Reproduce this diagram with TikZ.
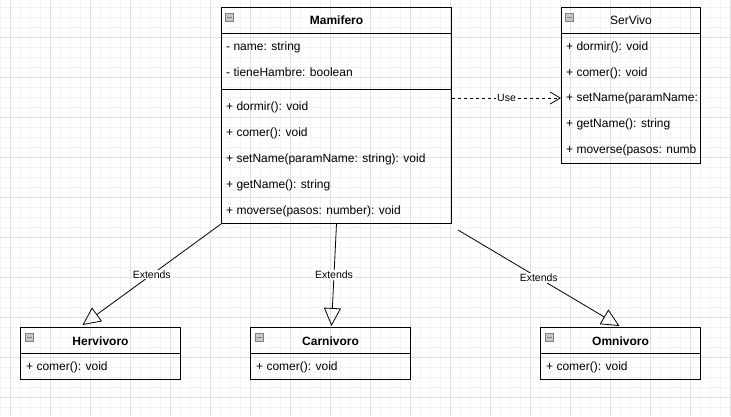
\documentclass[tikz,border=0pt]{standalone}
\usepackage{fontspec}
\setmainfont{Liberation Sans}
\usepackage{xcolor}
\usepackage{tikz}
\usetikzlibrary{arrows.meta, positioning, calc}
\definecolor{gridmajor}{HTML}{E0E0E0}
\definecolor{gridminor}{HTML}{F3F3F3}
\definecolor{togglegray}{HTML}{C8C8C8}

\begin{document}
\begin{tikzpicture}[
        x=1pt, y=-1pt,
        classbox/.style={draw=black, line width=1pt, anchor=north west, inner sep=0pt},
        classname/.style={font=\fontsize{12}{14}\selectfont\bfseries},
        member/.style={anchor=west, inner xsep=0pt, inner ysep=0pt, text height=9pt, text depth=2.5pt, font=\fontsize{12}{14}\selectfont},
        toggle/.style={draw=black!50, fill=togglegray, minimum size=8pt, inner sep=0pt, path picture={\draw[line width=1pt] ([xshift=1.5pt]path picture bounding box.west) -- ([xshift=-1.5pt]path picture bounding box.east);}},
        extends/.style={line width=0.8pt, -{Triangle[open, length=18pt, width=17pt]}},
        uses/.style={dashed, line width=0.8pt, -{Straight Barb[length=10pt, width=12pt]}},
        edgelabel/.style={fill=white, inner sep=1pt, font=\fontsize{10.5}{12}\selectfont}
    ]
        \useasboundingbox (0,0) rectangle (731,416);
        % grid background
        \fill[white] (0,0) rectangle (731,416);
        \foreach \gx in {0,10,...,730} \draw[gridminor, line width=0.8pt] (\gx,0) -- (\gx,416);
        \foreach \gy in {7,17,...,416} \draw[gridminor, line width=0.8pt] (0,\gy) -- (731,\gy);
        \foreach \gx in {10,50,...,730} \draw[gridmajor, line width=0.8pt] (\gx,0) -- (\gx,416);
        \foreach \gy in {37,77,...,416} \draw[gridmajor, line width=0.8pt] (0,\gy) -- (731,\gy);

        % Mamifero
        \node[classbox, minimum width=230, minimum height=216] (mam) at (221,7) {};
        \node[toggle] (mamtog) at ($(mam.north west)+(8,10)$) {};
        \node[classname] (mamname) at ($(mam.north)+(0,13)$) {Mamifero};
        \draw[line width=1pt] ($(mam.north west)+(0,26)$) -- ($(mam.north east)+(0,26)$);
        \draw[line width=1pt] ($(mam.north west)+(0,82)$) -- ($(mam.north east)+(0,82)$);
        \node[member] (mam1) at ($(mam.north west)+(5,40)$) {- name: string};
        \node[member] (mam2) at ($(mam.north west)+(5,66)$) {- tieneHambre: boolean};
        \node[member] (mam3) at ($(mam.north west)+(5,100)$) {+ dormir(): void};
        \node[member] (mam4) at ($(mam.north west)+(5,126)$) {+ comer(): void};
        \node[member] (mam5) at ($(mam.north west)+(5,152)$) {+ setName(paramName: string): void};
        \node[member] (mam6) at ($(mam.north west)+(5,178)$) {+ getName(): string};
        \node[member] (mam7) at ($(mam.north west)+(5,204)$) {+ moverse(pasos: number): void};

        % SerVivo
        \node[classbox, minimum width=139, minimum height=156] (sv) at (561,7) {};
        \node[toggle] (svtog) at ($(sv.north west)+(8,10)$) {};
        \node[classname, font=\fontsize{12}{14}\selectfont] (svname) at ($(sv.north)+(0,13)$) {SerVivo};
        \draw[line width=1pt] ($(sv.north west)+(0,26)$) -- ($(sv.north east)+(0,26)$);
        \begin{scope}
            \clip (sv.north west) rectangle (sv.south east);
            \node[member] (sv1) at ($(sv.north west)+(5,40)$) {+ dormir(): void};
            \node[member] (sv2) at ($(sv.north west)+(5,66)$) {+ comer(): void};
            \node[member] (sv3) at ($(sv.north west)+(5,91)$) {+ setName(paramName:};
            \node[member] (sv4) at ($(sv.north west)+(5,117)$) {+ getName(): string};
            \node[member] (sv5) at ($(sv.north west)+(5,143)$) {+ moverse(pasos: numb};
        \end{scope}

        % subclasses
        \node[classbox, minimum width=160, minimum height=52] (herv) at (20,327) {};
        \node[classbox, minimum width=160, minimum height=52] (carn) at (250,327) {};
        \node[classbox, minimum width=160, minimum height=52] (omni) at (540,327) {};
        \node[toggle] (hervtog) at ($(herv.north west)+(9,10)$) {};
        \node[toggle] (carntog) at ($(carn.north west)+(9,10)$) {};
        \node[toggle] (omnitog) at ($(omni.north west)+(9,10)$) {};
        \node[classname] (hervname) at ($(herv.north)+(0,14)$) {Hervivoro};
        \node[classname] (carnname) at ($(carn.north)+(0,14)$) {Carnivoro};
        \node[classname] (omniname) at ($(omni.north)+(0,14)$) {Omnivoro};
        \draw[line width=1pt] ($(herv.north west)+(0,26)$) -- ($(herv.north east)+(0,26)$);
        \draw[line width=1pt] ($(carn.north west)+(0,26)$) -- ($(carn.north east)+(0,26)$);
        \draw[line width=1pt] ($(omni.north west)+(0,26)$) -- ($(omni.north east)+(0,26)$);
        \node[member] (herv1) at ($(herv.north west)+(6,40)$) {+ comer(): void};
        \node[member] (carn1) at ($(carn.north west)+(6,40)$) {+ comer(): void};
        \node[member] (omni1) at ($(omni.north west)+(6,40)$) {+ comer(): void};

        % relations
        \draw[uses] (mam.east |- sv3) -- node[edgelabel] {Use} (sv.west |- sv3);
        \draw[extends] (mam.south west) -- node[edgelabel] {Extends} ($(herv.north)+(-18,-2)$);
        \draw[extends] (mam.south) -- node[edgelabel] {Extends} ($(carn.north)+(1,-1)$);
        \draw[extends] ($(mam.south east)+(6,6)$) -- node[edgelabel] {Extends} ($(omni.north)+(-1,-1)$);
    \end{tikzpicture}
\end{document}
